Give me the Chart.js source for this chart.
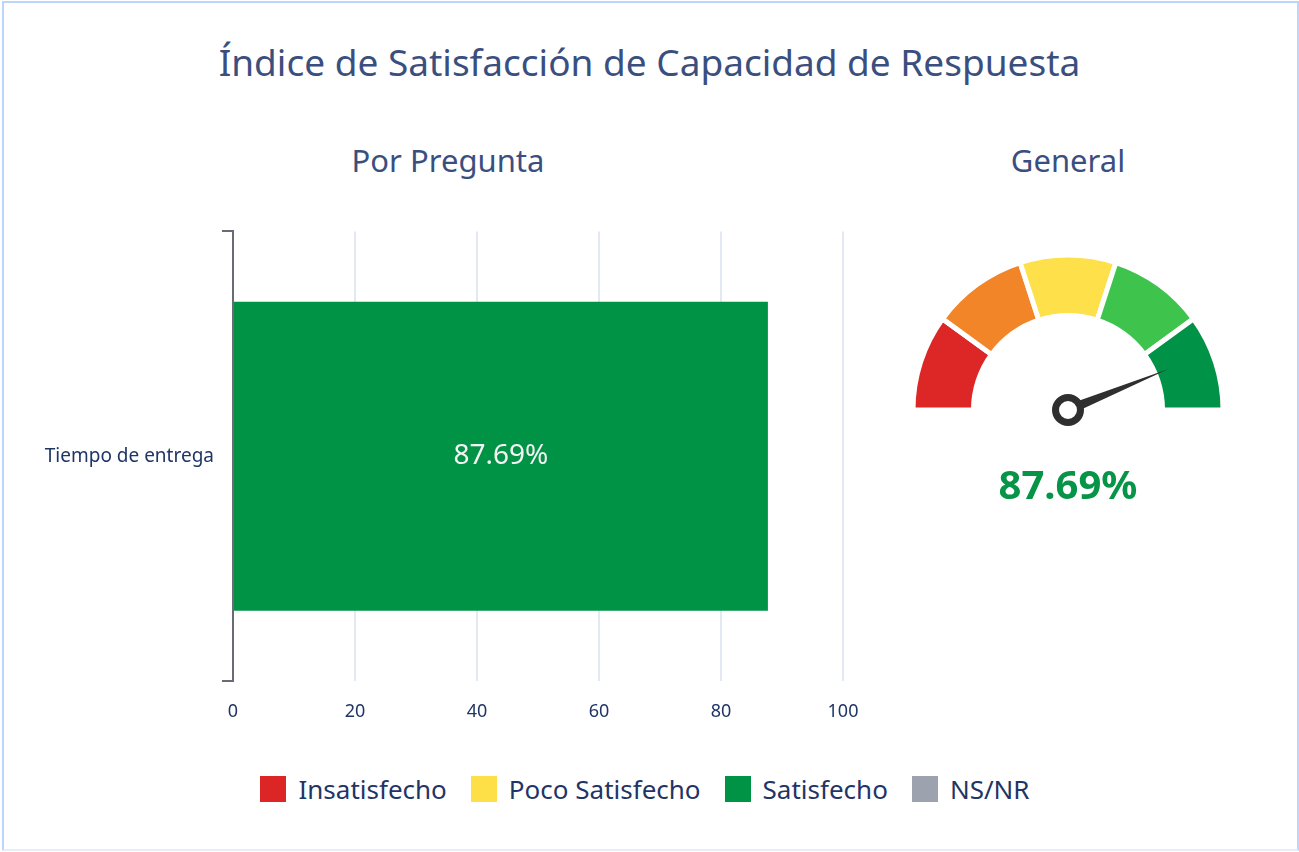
<!DOCTYPE html>
<html lang="es">
<head>
<meta charset="utf-8">
<title>Índice de Satisfacción de Capacidad de Respuesta</title>
<script src="https://cdn.jsdelivr.net/npm/chart.js@4.4.1/dist/chart.umd.min.js"></script>
<style>
  html, body { margin: 0; padding: 0; background: #fff; }
  body {
    width: 1299px; height: 852px; position: relative; overflow: hidden;
    font-family: "Noto Sans", "Open Sans", sans-serif;
  }
  #marco {
    position: absolute; left: 2px; top: 1px; width: 1297px; height: 850px;
    box-sizing: border-box; border: 2px solid #bdd5fb; border-bottom-color: #e6eefc;
  }
  .texto { position: absolute; white-space: nowrap; line-height: 1; }
  #titulo { left: 0; width: 1299px; text-align: center; top: 43px; font-size: 37px; color: #3b4f7f; }
  .subtitulo { top: 145px; font-size: 31px; color: #3b4f7f; width: 400px; text-align: center; }
  #sub-pregunta { left: 248px; }
  #sub-general { left: 868px; }
  #barras { position: absolute; left: 0; top: 212px; }
  #gauge { position: absolute; left: 878px; top: 220px; }
  #leyenda {
    position: absolute; left: 0; width: 1290px; top: 771px;
    display: flex; justify-content: center; align-items: center; gap: 24px;
  }
  .item { display: flex; align-items: center; gap: 12px; font-size: 26px; color: #1f3566; }
  .caja { width: 26px; height: 26px; }
</style>
</head>
<body>
<div id="marco"></div>
<div id="titulo" class="texto">Índice de Satisfacción de Capacidad de Respuesta</div>
<div id="sub-pregunta" class="texto subtitulo">Por Pregunta</div>
<div id="sub-general" class="texto subtitulo">General</div>
<canvas id="barras" width="880" height="519"></canvas>
<canvas id="gauge" width="380" height="300"></canvas>
<div id="leyenda"></div>

<script>
// Datos
const preguntas = ["Tiempo de entrega"];
const porcentajes = [87.69];
const ticksX = [0, 20, 40, 60, 80, 100];

const categorias = ["Insatisfecho", "Poco Satisfecho", "Satisfecho", "NS/NR"];
const coloresCategorias = ["#dc2626", "#fde047", "#009245", "#9ca3af"];

const tramosGauge = [20, 20, 20, 20, 20];
const coloresGauge = ["#dd2727", "#f28527", "#fde04a", "#3ec34d", "#009247"];
const valorGeneral = 87.69;

const colorTexto = "#1f3566";
const fuente = "'Noto Sans', 'Open Sans', sans-serif";

// Leyenda
const leyenda = document.getElementById("leyenda");
categorias.forEach((nombre, i) => {
  const item = document.createElement("div");
  item.className = "item";
  const caja = document.createElement("span");
  caja.className = "caja";
  caja.style.background = coloresCategorias[i];
  const txt = document.createElement("span");
  txt.textContent = nombre;
  item.appendChild(caja);
  item.appendChild(txt);
  leyenda.appendChild(item);
});

// Etiqueta dentro de la barra
const etiquetaBarra = {
  id: "etiquetaBarra",
  afterDatasetsDraw(chart) {
    const { ctx } = chart;
    chart.getDatasetMeta(0).data.forEach((barra, i) => {
      ctx.save();
      ctx.fillStyle = "#f3f3f3";
      ctx.font = "28px " + fuente;
      ctx.textAlign = "center";
      ctx.textBaseline = "middle";
      ctx.fillText(porcentajes[i].toFixed(2) + "%", (barra.base + barra.x) / 2, barra.y);
      ctx.restore();
    });
  }
};

new Chart(document.getElementById("barras"), {
  type: "bar",
  data: {
    labels: preguntas,
    datasets: [{
      data: porcentajes,
      backgroundColor: "#009245",
      barPercentage: 0.687,
      categoryPercentage: 1
    }]
  },
  options: {
    indexAxis: "y",
    responsive: false,
    animation: false,
    layout: { padding: { top: 0, right: 37, left: 0, bottom: 0 } },
    plugins: { legend: { display: false }, tooltip: { enabled: false } },
    scales: {
      x: {
        min: ticksX[0],
        max: ticksX[ticksX.length - 1],
        afterBuildTicks: (s) => { s.ticks = ticksX.map(v => ({ value: v })); },
        afterFit: (s) => { s.height = 50; },
        ticks: { padding: 20, color: colorTexto, font: { family: fuente, size: 18 } },
        grid: { color: "#e3e9f3", lineWidth: 2, drawTicks: false },
        border: { display: false }
      },
      y: {
        offset: true,
        afterFit: (s) => { s.width = 233; },
        grid: { offset: true, drawOnChartArea: false, drawTicks: true, tickLength: 11, color: "#6b6b75", lineWidth: 2 },
        border: { display: true, color: "#6b6b75", width: 2 },
        ticks: { padding: 8, color: colorTexto, font: { family: fuente, size: 19 } }
      }
    }
  },
  plugins: [etiquetaBarra]
});

// Aguja y valor del indicador
const aguja = {
  id: "aguja",
  afterDatasetsDraw(chart) {
    const { ctx } = chart;
    const arco = chart.getDatasetMeta(0).data[0];
    const cx = arco.x, cy = arco.y, r = arco.outerRadius;
    const ang = Math.PI + (valorGeneral / 100) * Math.PI;
    const largo = r * 0.7;
    const tipX = cx + Math.cos(ang) * largo;
    const tipY = cy + Math.sin(ang) * largo;
    const px = Math.cos(ang + Math.PI / 2) * 5;
    const py = Math.sin(ang + Math.PI / 2) * 5;
    ctx.save();
    ctx.fillStyle = "#2f2f2f";
    ctx.beginPath();
    ctx.moveTo(cx + px, cy + py);
    ctx.lineTo(tipX, tipY);
    ctx.lineTo(cx - px, cy - py);
    ctx.closePath();
    ctx.fill();
    ctx.beginPath();
    ctx.arc(cx, cy, 12.5, 0, Math.PI * 2);
    ctx.fillStyle = "#fff";
    ctx.fill();
    ctx.lineWidth = 7;
    ctx.strokeStyle = "#2f2f2f";
    ctx.stroke();
    ctx.fillStyle = "#069447";
    ctx.font = "bold 40px " + fuente;
    ctx.textAlign = "center";
    ctx.textBaseline = "middle";
    ctx.fillText(valorGeneral.toFixed(2) + "%", cx, cy + 78);
    ctx.restore();
  }
};

new Chart(document.getElementById("gauge"), {
  type: "doughnut",
  data: {
    labels: ["1", "2", "3", "4", "5"],
    datasets: [{
      data: tramosGauge,
      backgroundColor: coloresGauge,
      borderColor: "#ffffff",
      borderWidth: 5,
      hoverOffset: 0
    }]
  },
  options: {
    responsive: false,
    animation: false,
    rotation: -90,
    circumference: 180,
    cutout: "61%",
    layout: { padding: { left: 32.5, right: 32.5, top: 32.5, bottom: 107.5 } },
    plugins: { legend: { display: false }, tooltip: { enabled: false } }
  },
  plugins: [aguja]
});
</script>
</body>
</html>
